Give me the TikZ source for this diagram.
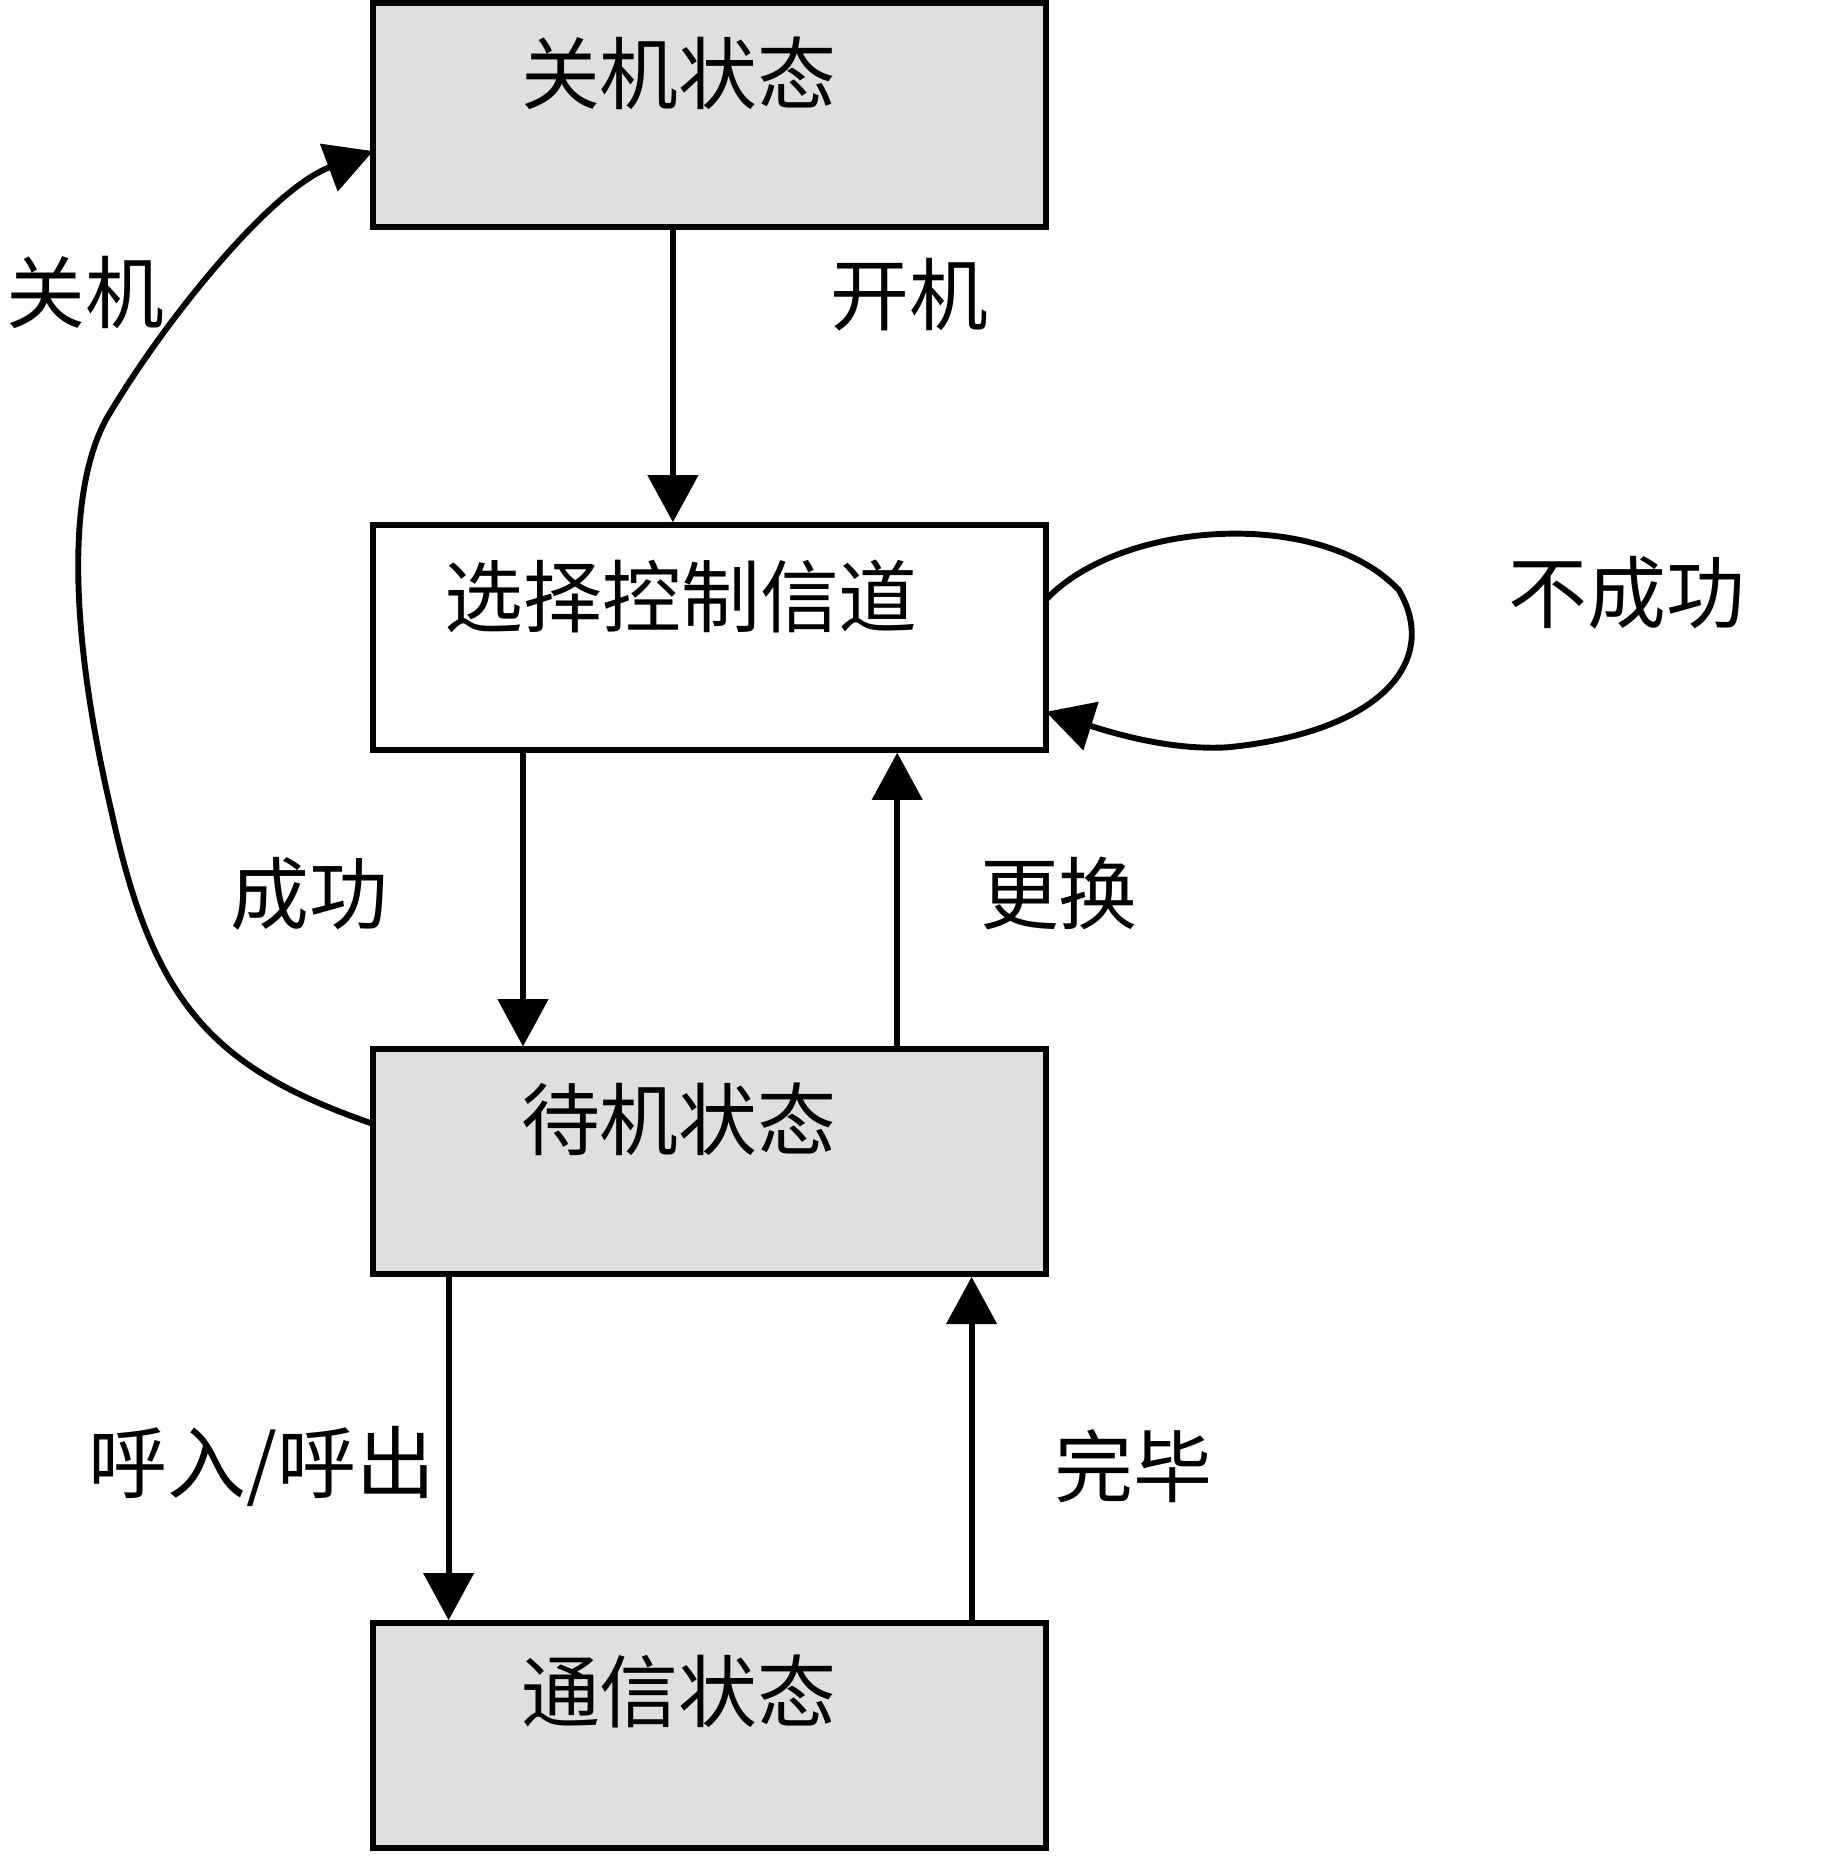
\documentclass[tikz,border=0pt]{standalone}
\usepackage{fontspec}
\setmainfont{Noto Sans CJK SC}
\usetikzlibrary{arrows.meta}
\begin{document}
\begin{tikzpicture}[x=0.01cm,y=-0.01cm,
 box/.style={draw,line width=0.05cm,minimum width=5.7cm,minimum height=1.9cm,inner sep=0},
 lab/.style={font=\fontsize{19pt}{19pt}\selectfont},
 arr/.style={line width=0.05cm,-{Triangle[length=0.4cm,width=0.42cm]}}]
\useasboundingbox (0,0) rectangle (1560,1573);
\node[box,fill=gray!25] (off) at (601,97.5) {};
\node[lab] (offt) at (575,62) {关机状态};
\node[box,fill=white] (sel) at (601,540) {};
\node[lab] (selt) at (577,505) {选择控制信道};
\node[box,fill=gray!25] (idle) at (601,984) {};
\node[lab] (idlet) at (575,948) {待机状态};
\node[box,fill=gray!25] (com) at (601,1470) {};
\node[lab] (comt) at (575,1433) {通信状态};
\draw[arr] (off.south -| 570,0) -- (sel.north -| 570,0);
\draw[arr] (sel.south -| 443,0) -- (idle.north -| 443,0);
\draw[arr] (idle.north -| 760,0) -- (sel.south -| 760,0);
\draw[arr] (idle.south -| 380,0) -- (com.north -| 380,0);
\draw[arr] (com.north -| 823,0) -- (idle.south -| 823,0);
\coordinate (l1) at (886,508);
\coordinate (l2) at (886,603);
\draw[arr] (l1) .. controls (950,440) and (1120,430) .. (1185,500)
  .. controls (1220,560) and (1170,620) .. (1040,633)
  .. controls (990,636) and (940,620) .. (l2);
\coordinate (k1) at (316,952);
\coordinate (k2) at (316,128);
\draw[arr] (k1) .. controls (180,905) and (130,850) .. (95,690)
  .. controls (55,520) and (60,410) .. (90,355)
  .. controls (140,270) and (230,160) .. (k2);
\node[lab] (t1) at (770,250) {开机};
\node[lab] (t2) at (262,757) {成功};
\node[lab] (t3) at (897,757) {更换};
\node[lab] (t4) at (222,1242) {呼入/呼出};
\node[lab] (t5) at (960,1242) {完毕};
\node[lab] (t6) at (1378,502) {不成功};
\node[lab] (t7) at (72,248) {关机};
\end{tikzpicture}
\end{document}
